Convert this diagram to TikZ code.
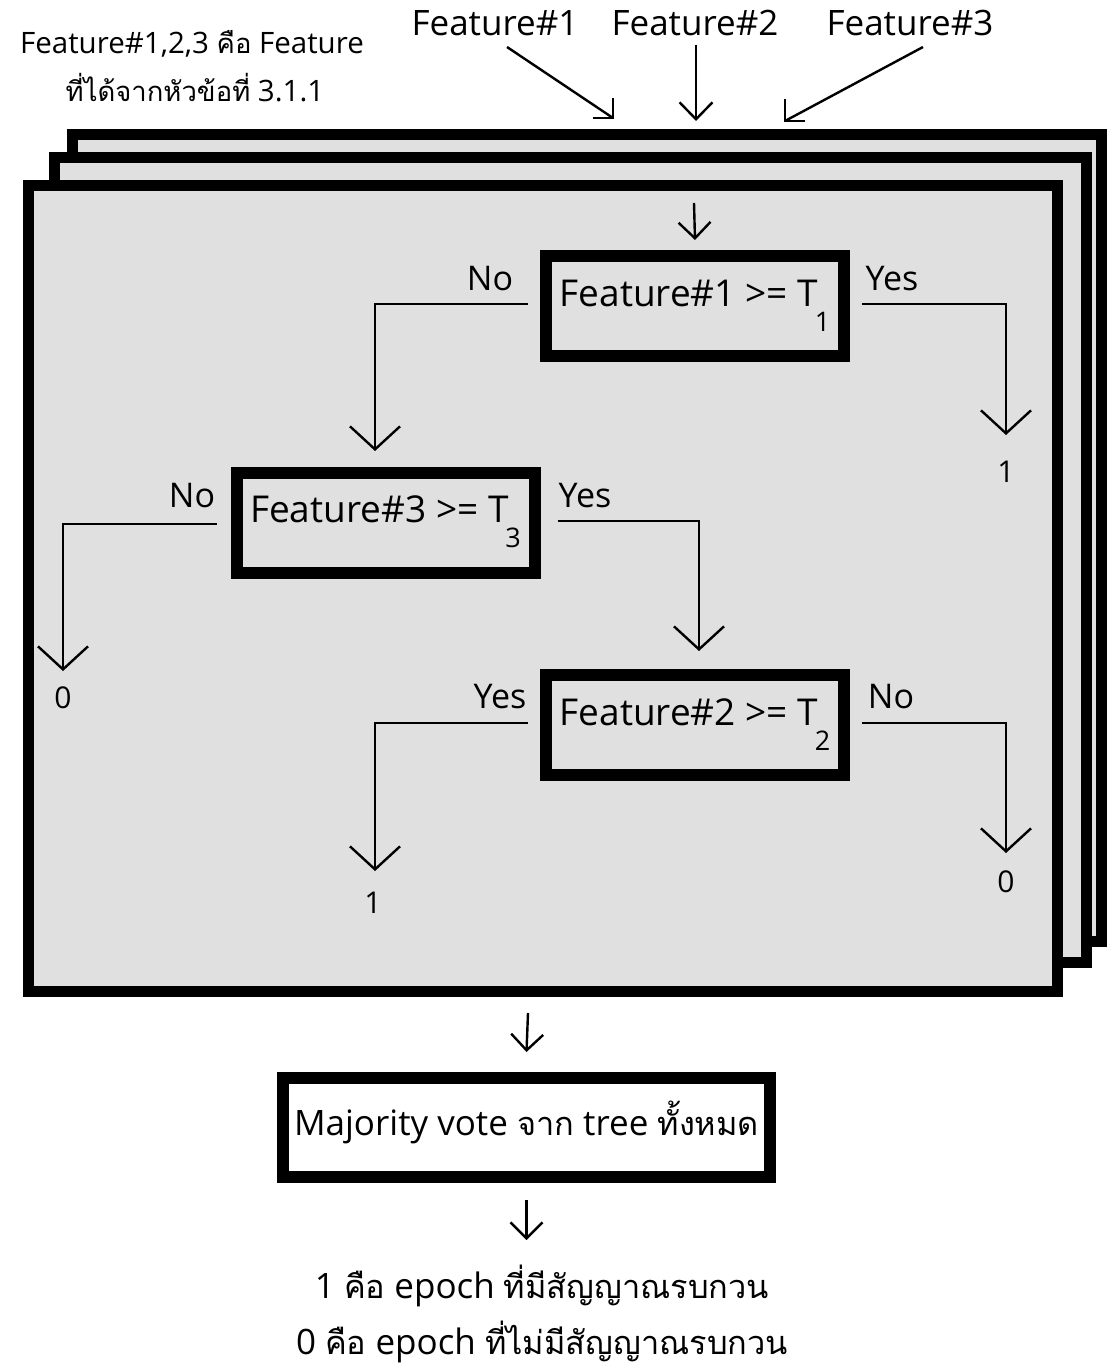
\documentclass[tikz,border=0pt]{standalone}
\usepackage{fontspec}
\setmainfont{Open Sans}
\newfontfamily\thaifont[Script=Thai,Scale=0.93]{Loma}
\newcommand\thaitxt[1]{{\thaifont #1}}
\newcommand\fsz[1]{\fontsize{#1}{#1}\selectfont}
\newcommand\lowsub[1]{\kern-3pt\raisebox{-25pt}{\fsz{27}#1}}
\usetikzlibrary{arrows.meta}
\definecolor{panel}{RGB}{224,224,224}

\begin{document}
\begin{tikzpicture}[x=1pt,y=-1pt,
  stackbox/.style={draw=black,line width=11pt,fill=panel},
  decbox/.style={draw=black,line width=12pt,fill=panel,inner sep=0pt,outer sep=0pt,
    minimum width=298pt,minimum height=100pt,text height=27pt,text depth=27pt,font=\fsz{37}},
  votebox/.style={decbox,fill=white,minimum width=487pt,minimum height=99pt,
    text height=35pt,text depth=19pt,font=\fsz{35}},
  conn/.style={line width=2.4pt},
  bigarrow/.style={conn,-{Straight Barb[length=23pt,width=50pt]}},
  smallarrow/.style={conn,-{Straight Barb[length=16pt,width=32pt]}},
  branch/.style={font=\fsz{34},anchor=base},
  leaf/.style={font=\fsz{30},anchor=base},
  toplabel/.style={font=\fsz{35},anchor=base},
  note/.style={font=\fsz{29.5},anchor=base},
  result/.style={font=\fsz{35},anchor=base}
]
\useasboundingbox (0,0) rectangle (1107,1367);

% stacked tree panels, back to front
\draw[stackbox] (72.5,134.5) rectangle (1101.5,941.5);
\draw[stackbox] (54.5,157.5) rectangle (1086.5,962.5);
\draw[stackbox] (28.5,185.5) rectangle (1057.5,991.5);

% feature inputs
\node[toplabel] (f1) at (495,36) {Feature\#1};
\node[toplabel] (f2) at (695,36) {Feature\#2};
\node[toplabel] (f3) at (910,36) {Feature\#3};
\node[note] (n1) at (192,54) {Feature\#1,2,3 \thaitxt{คือ} Feature};
\node[note] (n2) at (195,102) {\thaitxt{ที่ได้จากหัวข้อที่} 3.1.1};

\coordinate (s1) at (507,47);
\coordinate (s2) at (696,45);
\coordinate (s3) at (923,47);
\coordinate (in1) at (613,118);
\coordinate (in2) at (696,121);
\coordinate (in3) at (785,121);
\draw[conn] (s1) -- (in1);
\draw[conn] ([xshift=-20pt]in1) -- (in1) -- ([yshift=20pt]in1);
\draw[conn,-{Straight Barb[length=17pt,width=33pt]}] (s2) -- (in2);
\draw[conn] (s3) -- (in3);
\draw[conn] ([xshift=20pt]in3) -- (in3) -- ([yshift=22pt]in3);

% decision nodes
\node[decbox] (b1) at (695,306) {Feature\#1 >= T\lowsub{1}};
\node[decbox] (b3) at (385.5,522.5) {Feature\#3 >= T\lowsub{3}};
\node[decbox] (b2) at (695,725) {Feature\#2 >= T\lowsub{2}};

\coordinate (top) at (694,203);
\draw[smallarrow] (top) -- ([yshift=16pt]b1.north);

% leaves
\node[leaf] (l1) at (1006,482) {1};
\node[leaf] (l0a) at (63,708) {0};
\node[leaf] (l1b) at (373,913) {1};
\node[leaf] (l0b) at (1006,892) {0};
\coordinate (t1) at (1006,435);
\coordinate (t0a) at (63,671);
\coordinate (t1b) at (375,871);
\coordinate (t0b) at (1006,853);
\coordinate (t3) at (375,451);
\coordinate (t2) at (699,651);

% branches
\draw[bigarrow] ([xshift=-18pt,yshift=2pt]b1.west) -| (t3);
\node[branch] (no1) at (490,290) {No};
\draw[bigarrow] ([xshift=18pt,yshift=2pt]b1.east) -| (t1);
\node[branch] (yes1) at (892,290) {Yes};

\draw[bigarrow] ([xshift=-20pt,yshift=-1.5pt]b3.west) -| (t0a);
\node[branch] (no3) at (192,507) {No};
\draw[bigarrow] ([xshift=23pt,yshift=1.5pt]b3.east) -| (t2);
\node[branch] (yes3) at (585,507) {Yes};

\draw[bigarrow] ([xshift=-18pt,yshift=2pt]b2.west) -| (t1b);
\node[branch] (yes2) at (500,708) {Yes};
\draw[bigarrow] ([xshift=18pt,yshift=2pt]b2.east) -| (t0b);
\node[branch] (no2) at (891,708) {No};

% aggregation
\node[votebox] (vote) at (526.5,1127.5) {Majority vote \thaitxt{จาก} tree \thaitxt{ทั้งหมด}};
\coordinate (out) at (528,1013);
\draw[smallarrow] (out) -- ([yshift=26pt]vote.north);
\node[result] (r1) at (542,1298) {1 \thaitxt{คือ} epoch \thaitxt{ที่มีสัญญาณรบกวน}};
\node[result] (r0) at (542,1354) {0 \thaitxt{คือ} epoch \thaitxt{ที่ไม่มีสัญญาณรบกวน}};
\draw[smallarrow] ([yshift=-23pt]vote.south) -- ([yshift=-63pt]vote.south);
\end{tikzpicture}
\end{document}
